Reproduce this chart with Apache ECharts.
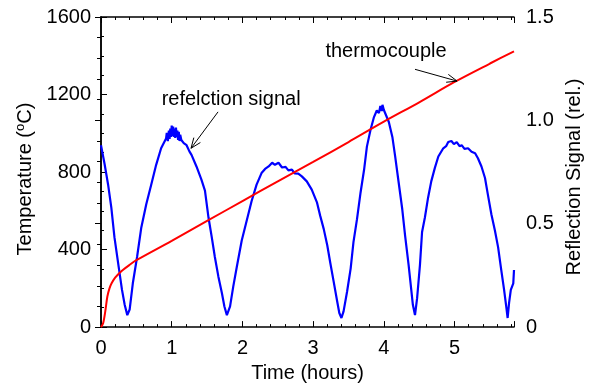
<!DOCTYPE html>
<html>
<head>
<meta charset="utf-8">
<script src="https://cdn.jsdelivr.net/npm/echarts@6/dist/echarts.min.js"></script>
<style>html,body{margin:0;padding:0;background:#fff;}#c{width:594px;height:388px;}</style>
</head>
<body>
<div id="c"></div>
<script>
// Thermocouple temperature (°C) vs time (hours)
const tcTime = [0, 0.03, 0.06, 0.09, 0.12, 0.15, 0.2, 0.25, 0.3, 0.4, 0.5, 1.0, 1.5, 2.0, 2.5, 3.0, 3.5, 4.0, 4.5, 5.0, 5.5, 5.84];
const tcTemp = [0, 20, 80, 158, 200, 226, 255, 275, 292, 320, 345, 445, 548, 650, 752, 852, 955, 1060, 1160, 1265, 1360, 1423];

// Reflection signal (rel.) vs time (hours)
const rsTime = [0.0, 0.014, 0.05, 0.10, 0.146, 0.19, 0.25, 0.297, 0.335, 0.372, 0.405, 0.45, 0.51, 0.57, 0.64, 0.71, 0.78, 0.85, 0.92,
  0.93, 0.945, 0.96, 0.97, 0.98, 0.99, 1.00, 1.01, 1.02, 1.03, 1.04, 1.05, 1.06, 1.07, 1.08, 1.09, 1.10, 1.11, 1.12, 1.136,
  1.17, 1.21, 1.25, 1.28, 1.35, 1.42, 1.47, 1.52, 1.566, 1.61, 1.66,
  1.71, 1.745, 1.78, 1.825, 1.87, 1.92, 1.99, 2.06, 2.13, 2.20, 2.27, 2.32, 2.37, 2.42, 2.46, 2.51, 2.56, 2.61, 2.65, 2.70, 2.74, 2.79,
  2.84, 2.91, 2.98, 3.055, 3.10, 3.15, 3.20, 3.24, 3.29, 3.34, 3.37, 3.40, 3.43, 3.48, 3.53, 3.57, 3.62, 3.67, 3.72, 3.76, 3.81, 3.86,
  3.90, 3.93, 3.95, 3.97, 3.98, 4.00, 4.02, 4.07, 4.12, 4.16, 4.21, 4.26, 4.30, 4.35, 4.39, 4.41, 4.44, 4.47, 4.51, 4.54, 4.58, 4.625,
  4.67, 4.72, 4.77, 4.84, 4.88, 4.91, 4.955, 4.99, 5.03, 5.07, 5.10, 5.14, 5.19, 5.24, 5.29, 5.33, 5.38, 5.43, 5.47, 5.52, 5.57, 5.615,
  5.66, 5.70, 5.73, 5.75, 5.77, 5.795, 5.83, 5.84];
const rsValue = [0.88, 0.873, 0.79, 0.69, 0.578, 0.435, 0.291, 0.18, 0.108, 0.058, 0.085, 0.212, 0.339, 0.482, 0.594, 0.689, 0.785, 0.865, 0.912,
  0.94, 0.90, 0.95, 0.91, 0.96, 0.92, 0.975, 0.925, 0.97, 0.92, 0.96, 0.915, 0.965, 0.92, 0.95, 0.905, 0.945, 0.90, 0.93, 0.905,
  0.89, 0.88, 0.85, 0.833, 0.777, 0.713, 0.66, 0.53, 0.435, 0.339, 0.244,
  0.164, 0.10, 0.058, 0.10, 0.196, 0.291, 0.419, 0.514, 0.61, 0.689, 0.745, 0.765, 0.777, 0.795, 0.785, 0.795, 0.772, 0.775, 0.758, 0.762, 0.743, 0.742,
  0.729, 0.705, 0.665, 0.602, 0.538, 0.474, 0.395, 0.315, 0.22, 0.124, 0.068, 0.044, 0.076, 0.172, 0.283, 0.411, 0.522, 0.65, 0.761, 0.873, 0.952, 1.016,
  1.048, 1.035, 1.07, 1.045, 1.075, 1.05, 1.048, 0.992, 0.92, 0.825, 0.697, 0.57, 0.443, 0.30, 0.172, 0.108, 0.058, 0.14, 0.30, 0.46, 0.53, 0.626,
  0.705, 0.769, 0.825, 0.865, 0.875, 0.895, 0.9, 0.885, 0.895, 0.875, 0.88, 0.862, 0.865, 0.848, 0.841, 0.817, 0.777, 0.721, 0.642, 0.546, 0.467, 0.387,
  0.276, 0.18, 0.10, 0.044, 0.116, 0.18, 0.212, 0.276];

const xTicks = [0, 1, 2, 3, 4, 5];
const leftTicks = [0, 400, 800, 1200, 1600];
const rightTicks = [0, 0.5, 1.0, 1.5];

const FONT = 'Liberation Sans, Arial, sans-serif';
const chart = echarts.init(document.getElementById('c'), null, {renderer: 'canvas', width: 594, height: 388});

const axisLineStyle = {color: '#000', width: 1.5};
function xAxisDef(pos, showLabel) {
  return {
    type: 'value', position: pos, min: 0, max: 5.84, interval: 1,
    axisLine: {show: true, onZero: false, lineStyle: axisLineStyle},
    axisTick: {show: true, inside: true, length: 6, lineStyle: {color: '#000', width: 1}},
    minorTick: {show: true, splitNumber: 5, length: 3, lineStyle: {color: '#000', width: 1}},
    axisLabel: {show: showLabel, fontSize: 20, fontFamily: FONT, color: '#000', margin: 11, showMaxLabel: false,
      formatter: v => xTicks.indexOf(v) >= 0 ? String(v) : ''},
    splitLine: {show: false}, minorSplitLine: {show: false},
    name: showLabel ? 'Time (hours)' : '', nameLocation: 'middle', nameGap: 33,
    nameTextStyle: {fontSize: 20, fontFamily: FONT, color: '#000'}
  };
}

const option = {
  animation: false,
  backgroundColor: '#fff',
  grid: {left: 101, right: 80, top: 17, bottom: 57, containLabel: false},
  xAxis: [xAxisDef('bottom', true), xAxisDef('top', false)],
  yAxis: [
    {
      type: 'value', position: 'left', min: 0, max: 1600, interval: 400,
      axisLine: {show: true, lineStyle: axisLineStyle},
      axisTick: {show: true, inside: true, length: 6, lineStyle: {color: '#000', width: 1}},
      minorTick: {show: true, splitNumber: 4, length: 3, lineStyle: {color: '#000', width: 1}},
      axisLabel: {fontSize: 20, fontFamily: FONT, color: '#000', margin: 10,
        formatter: v => leftTicks.indexOf(v) >= 0 ? String(v) : ''},
      splitLine: {show: false},
      name: 'Temperature ({sup|o}C)', nameLocation: 'middle', nameGap: 62,
      nameTextStyle: {fontSize: 20, fontFamily: FONT, color: '#000', padding: [0, 14, 0, 0],
        rich: {sup: {fontSize: 13, fontFamily: FONT, color: '#000', padding: [0, 0, 10, 0]}}}
    },
    {
      type: 'value', position: 'right', min: 0, max: 1.5, interval: 0.5,
      axisLine: {show: true, lineStyle: axisLineStyle},
      axisTick: {show: true, inside: true, length: 6, lineStyle: {color: '#000', width: 1}},
      minorTick: {show: true, splitNumber: 5, length: 4, lineStyle: {color: '#000', width: 1}},
      axisLabel: {fontSize: 20, fontFamily: FONT, color: '#000', margin: 12,
        formatter: v => rightTicks.indexOf(v) < 0 ? '' : (v === 0 ? '0' : v.toFixed(1))},
      splitLine: {show: false},
      name: 'Reflection Signal (rel.)', nameLocation: 'middle', nameGap: 46, nameRotate: 90,
      nameTextStyle: {fontSize: 20, fontFamily: FONT, color: '#000', padding: [0, 10, 0, 0]}
    }
  ],
  series: [
    {
      name: 'reflection', type: 'line', xAxisIndex: 0, yAxisIndex: 1, showSymbol: false, symbol: 'none',
      lineStyle: {color: '#0000ff', width: 2.2}, z: 2,
      data: rsTime.map((t, i) => [t, rsValue[i]])
    },
    {
      name: 'thermocouple', type: 'line', xAxisIndex: 0, yAxisIndex: 0, showSymbol: false, symbol: 'none',
      smooth: 0.3,
      lineStyle: {color: '#ff0000', width: 2}, z: 3,
      data: tcTime.map((t, i) => [t, tcTemp[i]])
    }
  ]
};
chart.setOption(option);

// Annotations (data coordinates on time / reflection axes)
const notes = [
  {text: 'refelction signal', at: [1.84, 1.103], from: [1.655, 1.041], to: [1.273, 0.865]},
  {text: 'thermocouple', at: [4.03, 1.333], from: [4.44, 1.247], to: [5.035, 1.19]}
];
const g = [];
notes.forEach(n => {
  const p = chart.convertToPixel({xAxisIndex: 0, yAxisIndex: 1}, n.at);
  const a = chart.convertToPixel({xAxisIndex: 0, yAxisIndex: 1}, n.from);
  const b = chart.convertToPixel({xAxisIndex: 0, yAxisIndex: 1}, n.to);
  g.push({type: 'text', x: p[0], y: p[1], style: {text: n.text, font: '20px ' + FONT, fill: '#000', align: 'center', verticalAlign: 'middle'}, z: 10});
  g.push({type: 'line', shape: {x1: a[0], y1: a[1], x2: b[0], y2: b[1]}, style: {stroke: '#000', lineWidth: 1}, z: 10});
  const ang = Math.atan2(a[1] - b[1], a[0] - b[0]);
  const L = 11, s = 0.38;
  const h1 = [b[0] + L * Math.cos(ang + s), b[1] + L * Math.sin(ang + s)];
  const h2 = [b[0] + L * Math.cos(ang - s), b[1] + L * Math.sin(ang - s)];
  g.push({type: 'polyline', shape: {points: [h1, b, h2]}, style: {stroke: '#000', lineWidth: 1, fill: null}, z: 10});
});
chart.setOption({graphic: g});
</script>
</body>
</html>
